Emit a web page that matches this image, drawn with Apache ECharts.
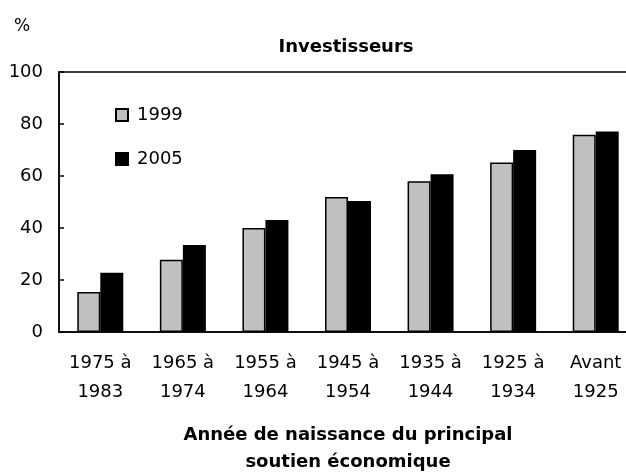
<!DOCTYPE html>
<html><head><meta charset="utf-8">
<script src="https://cdn.jsdelivr.net/npm/echarts@6/dist/echarts.min.js"></script>
<style>html,body{margin:0;padding:0;background:#fff}#c{width:626px;height:473px}</style>
</head><body><div id="c"></div>
<script>
const categories = ['1975 à\n1983','1965 à\n1974','1955 à\n1964','1945 à\n1954','1935 à\n1944','1925 à\n1934','Avant\n1925'];
const values1999 = [15.4, 27.8, 40.0, 51.9, 58.0, 65.2, 75.9];
const values2005 = [22.8, 33.5, 43.1, 50.4, 60.7, 70.0, 77.1];
const yTicks = [0, 20, 40, 60, 80, 100];
const FONT = '"DejaVu Sans", sans-serif';
const chart = echarts.init(document.getElementById('c'), null, {renderer:'canvas'});
chart.setOption({
  animation: false,
  backgroundColor: '#fff',
  title: [
    {text: 'Investisseurs', left: 341, top: 33, textAlign: 'center',
     textStyle: {fontFamily: FONT, fontSize: 18, fontWeight: 'bold', color: '#000', lineHeight: 19}},
    {text: 'Année de naissance du principal\nsoutien économique', left: 343, top: 417, textAlign: 'center',
     textStyle: {fontFamily: FONT, fontSize: 18, fontWeight: 'bold', color: '#000', lineHeight: 27}},
    {text: '%', left: 9, top: 13, textStyle: {fontFamily: FONT, fontSize: 17, fontWeight: 'normal', color: '#000', lineHeight: 18}}
  ],
  legend: {
    orient: 'vertical', left: 110, top: 100, itemGap: 24, itemWidth: 12, itemHeight: 12,
    icon: 'rect', textStyle: {fontFamily: FONT, fontSize: 18, color: '#000', lineHeight: 20, padding: [0,0,0,4]},
    data: ['1999','2005']
  },
  grid: {left: 59, top: 72, width: 578, bottom: 141, show: true, borderColor: '#000', borderWidth: 1.5,
         containLabel: false, outerBoundsMode: 'none'},
  xAxis: {
    type: 'category', data: categories,
    axisLine: {lineStyle: {color: '#000', width: 1.5}},
    axisTick: {show: false},
    axisLabel: {fontFamily: FONT, fontSize: 18, color: '#000', lineHeight: 29, margin: 17, interval: 0}
  },
  yAxis: {
    type: 'value', min: 0, max: 100, interval: 20,
    splitLine: {show: false},
    axisLine: {show: true, lineStyle: {color: '#000', width: 1.5}},
    axisTick: {show: true, inside: true, length: 5, lineStyle: {color: '#000', width: 1.5}},
    axisLabel: {fontFamily: FONT, fontSize: 18, color: '#000', margin: 16,
      formatter: v => yTicks.includes(v) ? String(v) : ''}
  },
  series: [
    {name: '1999', type: 'bar', data: values1999, barWidth: 23, barGap: '0%',
     itemStyle: {color: '#c0c0c0', borderColor: '#000', borderWidth: 1.5}},
    {name: '2005', type: 'bar', data: values2005, barWidth: 23,
     itemStyle: {color: '#000', borderColor: '#000', borderWidth: 1.5}}
  ]
});
</script></body></html>
